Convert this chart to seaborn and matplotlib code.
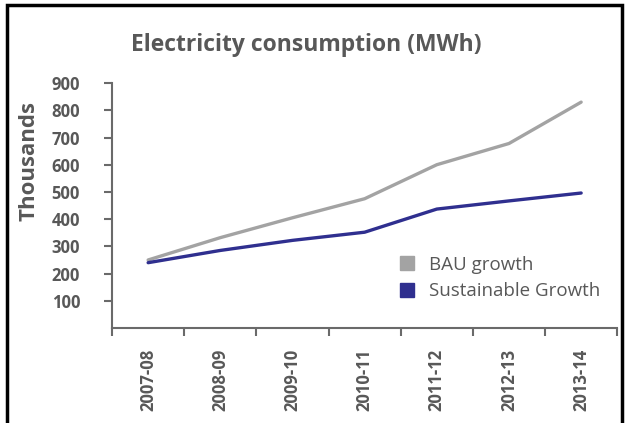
import pandas as pd
import matplotlib
matplotlib.use("Agg")
import matplotlib.pyplot as plt
import seaborn as sns
from matplotlib.patches import Rectangle
from matplotlib.lines import Line2D

# -----------------------------
# Data
# -----------------------------
years = ['2007-08', '2008-09', '2009-10', '2010-11', '2011-12', '2012-13', '2013-14']
bau_growth = [250, 332, 405, 475, 600, 678, 830]
sustainable_growth = [240, 285, 322, 352, 437, 467, 496]
y_ticks = [100, 200, 300, 400, 500, 600, 700, 800, 900]

df = pd.DataFrame({'Year': years * 2,
                   'Value': bau_growth + sustainable_growth,
                   'Series': ['BAU growth'] * len(years) + ['Sustainable Growth'] * len(years)})

sns.set_style('white')
plt.rcParams['font.family'] = ['Open Sans', 'DejaVu Sans']

text_grey = '#585858'
axis_grey = '#6a6a6a'
colors = {'BAU growth': '#a3a3a3', 'Sustainable Growth': '#2f2f8f'}

fig = plt.figure(figsize=(6.26, 4.23), dpi=100)
ax = fig.add_axes([0.179, 0.2246, 0.807, 0.579])

sns.lineplot(data=df, x='Year', y='Value', hue='Series', palette=colors,
             linewidth=2.4, ax=ax, legend=False, sort=False)

ax.set_xlim(-0.5, 6.5)
ax.set_ylim(0, 900)
ax.set_yticks(y_ticks)
ax.set_yticklabels([str(v) for v in y_ticks], fontweight='bold', fontsize=12, color=text_grey)
ax.set_xticks(range(len(years)))
ax.set_xticklabels(years, rotation=90, fontweight='bold', fontsize=12, color=text_grey)
ax.set_xticks([i - 0.5 for i in range(len(years) + 1)], minor=True)
ax.tick_params(axis='x', which='major', bottom=True, length=0, pad=15)
ax.tick_params(axis='x', which='minor', bottom=True, length=6, width=1.5,
               color=axis_grey, direction='out')
ax.tick_params(axis='y', left=True, length=6, width=1.5, color=axis_grey,
               direction='out', pad=17)

for side in ['top', 'right']:
    ax.spines[side].set_visible(False)
for side in ['left', 'bottom']:
    ax.spines[side].set_color(axis_grey)
    ax.spines[side].set_linewidth(1.5)

ax.set_xlabel('')
ax.set_ylabel('Thousands', fontsize=16, fontweight='bold', color=text_grey, va='center')
ax.yaxis.set_label_coords(-0.164, 0.68)
fig.text(0.489, 0.893, 'Electricity consumption (MWh)', ha='center', va='center',
         fontsize=16.5, fontweight='bold', color=text_grey)

handles = [Line2D([], [], marker='s', linestyle='none', markersize=10,
                  markerfacecolor=colors[k], markeredgecolor=colors[k]) for k in colors]
ax.legend(handles, list(colors.keys()), loc='lower right', bbox_to_anchor=(1.0, 0.045),
          frameon=False, fontsize=13.5, handletextpad=0.2, labelspacing=0.45,
          labelcolor=text_grey)

fig.patches.append(Rectangle((0.011, -0.1), 0.982, 1.088, transform=fig.transFigure,
                             fill=False, linewidth=2.5, edgecolor='black'))

fig.savefig('out.png', dpi=100)
